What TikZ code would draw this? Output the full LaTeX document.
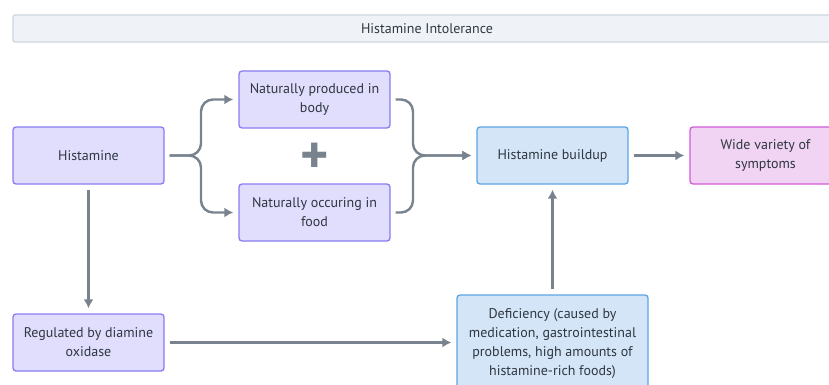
\documentclass[tikz,border=0pt]{standalone}
\usepackage{fontspec}
\setmainfont{PT Sans}
\usetikzlibrary{arrows.meta}
\definecolor{txtgray}{HTML}{2F3740}
\definecolor{linegray}{HTML}{78838E}
\definecolor{lavfill}{HTML}{E0DDFD}
\definecolor{lavdraw}{HTML}{8A7CF0}
\definecolor{bluefill}{HTML}{D3E5F7}
\definecolor{bluedraw}{HTML}{5AA5E6}
\definecolor{pinkfill}{HTML}{F1D3F4}
\definecolor{pinkdraw}{HTML}{D35BD9}
\definecolor{titlefill}{HTML}{EFF3F7}
\definecolor{titledraw}{HTML}{CDD6DF}
\tikzset{
	box/.style={draw, rectangle, rounded corners=3pt, line width=1.3pt, align=center, text=txtgray, font=\fontsize{14}{19}\selectfont, minimum width=151pt, minimum height=57pt},
	lavbox/.style={box, fill=lavfill, draw=lavdraw},
	bluebox/.style={box, fill=bluefill, draw=bluedraw},
	pinkbox/.style={box, fill=pinkfill, draw=pinkdraw},
	conn/.style={draw=linegray, line width=2.4pt, -{Latex[length=9pt,width=10pt]}, shorten <=5pt, shorten >=5pt},
	fork/.style={conn, rounded corners=12pt}
}
\begin{document}
\begin{tikzpicture}[x=1pt, y=-1pt]
				\useasboundingbox (0,0) rectangle (829,385);
				\clip (0,0) rectangle (829,385);
				\node[draw=titledraw, fill=titlefill, rectangle, rounded corners=2pt, line width=1.3pt, minimum width=828pt, minimum height=27pt, text=txtgray, font=\fontsize{14}{16}\selectfont] (title)at(427, 28.5) {Histamine Intolerance};
				\node[lavbox] (hist)at(88.5, 155.5) {Histamine};
				\node[lavbox] (body)at(314.5, 99.5) {Naturally produced in\\body};
				\node[lavbox] (food)at(314.5, 212.5) {Naturally occuring in\\food};
				\node[text=linegray, font=\fontsize{54}{54}\selectfont\bfseries] (plus)at(314.5, 158) {+};
				\node[bluebox] (build)at(552.5, 155.5) {Histamine buildup};
				\node[pinkbox] (sympt)at(765.5, 155.5) {Wide variety of\\symptoms};
				\node[lavbox] (dao)at(88.5, 342.5) {Regulated by diamine\\oxidase};
				\node[bluebox, minimum width=191pt, minimum height=98pt] (defic)at(552.5, 344) {Deficiency (caused by\\medication, gastrointestinal\\problems, high amounts of\\histamine-rich foods)};
				\coordinate (lsplit) at (201, 155.5);
				\coordinate (rsplit) at (413, 155.5);
				\draw[fork] (hist.east) -- (lsplit) -- (lsplit |- body.west) -- (body.west);
				\draw[fork] (hist.east) -- (lsplit) -- (lsplit |- food.west) -- (food.west);
				\draw[fork] (body.east) -- (rsplit |- body.east) -- (rsplit) -- (build.west);
				\draw[fork] (food.east) -- (rsplit |- food.east) -- (rsplit) -- (build.west);
				\draw[conn] (build) -- (sympt);
				\draw[conn] (hist) -- (dao);
				\draw[conn] (dao) -- (defic.west |- dao.east);
				\draw[conn] (defic) -- (build);
			\end{tikzpicture}
\end{document}
